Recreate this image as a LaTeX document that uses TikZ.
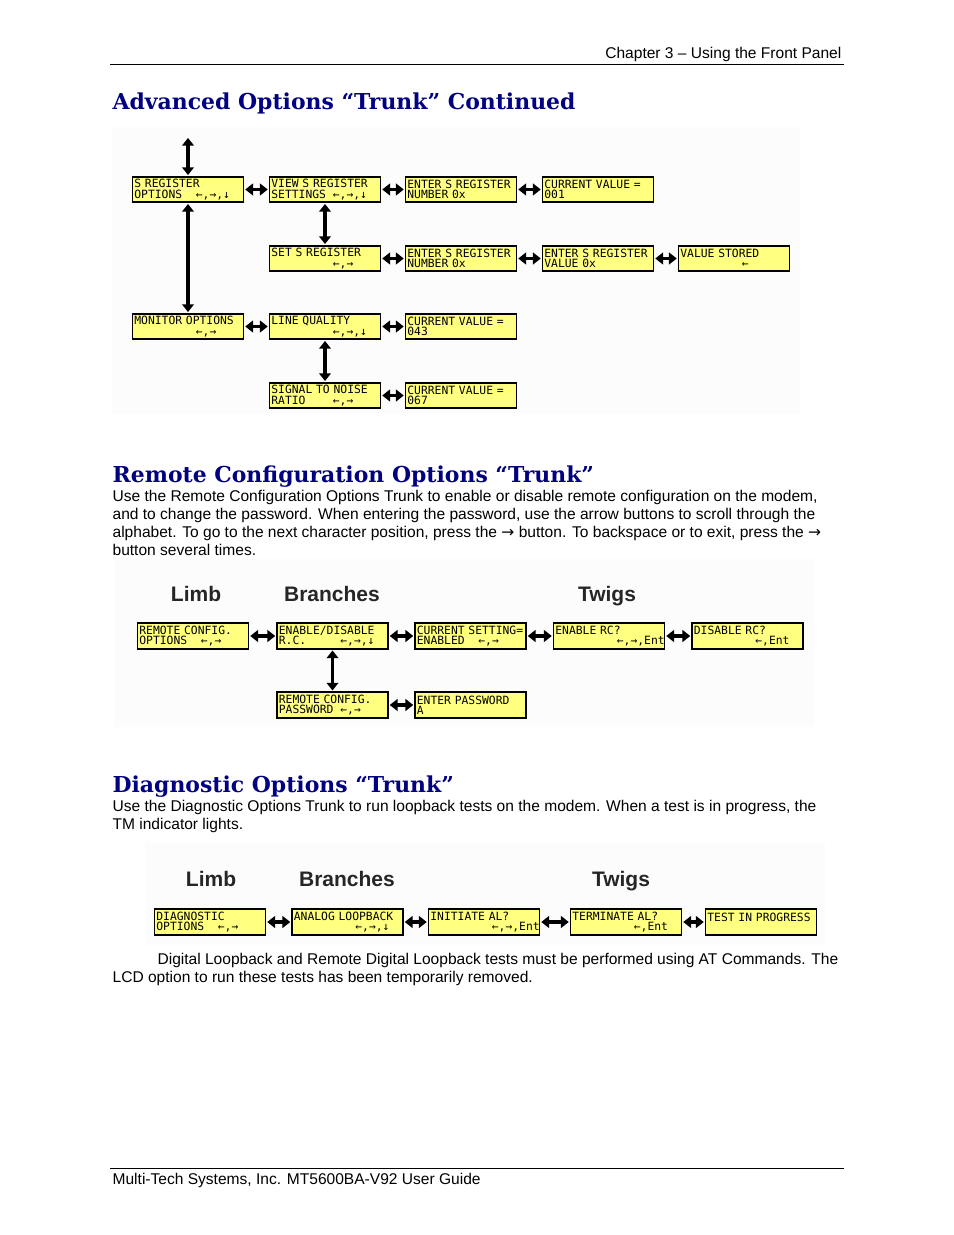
\documentclass[tikz,border=0pt]{standalone}
\usepackage{fontspec}
\setmainfont{Liberation Sans}
\newfontfamily\titlefont{DejaVu Serif}
\newfontfamily\lcdfont{DejaVu Sans Mono}
\newfontfamily\symfont{DejaVu Sans}
\usetikzlibrary{arrows.meta}
\definecolor{lcdyellow}{RGB}{255,255,128}
\definecolor{titleblue}{RGB}{0,0,128}
\definecolor{panelgray}{RGB}{252,252,252}
% second LCD line: key hints start at column 10
\newcommand{\col}[1]{\makebox[5.418em][l]{#1}}

\begin{document}
\begin{tikzpicture}[x=0.6429pt,y=-0.6429pt,>={Triangle[length=5pt,width=7.5pt]}, line width=0.8pt]
    \tikzstyle{lcd} = [draw, fill=lcdyellow, rectangle, line width=1pt, minimum width=71.4pt, minimum height=16.4pt, inner sep=1.2pt, text width=69pt, align=left, font=\lcdfont\fontsize{7.3}{6.6}\selectfont]
    \tikzstyle{link} = [<->, line width=2.2pt, shorten >=0.6pt, shorten <=0.6pt]
    \tikzstyle{para} = [inner sep=0pt, align=left, font=\fontsize{10}{11.57}\selectfont]
    \tikzstyle{heading} = [inner sep=0pt, text=titleblue, font=\titlefont\bfseries\fontsize{14.1}{16}\selectfont]
    \tikzstyle{level} = [inner sep=0pt, anchor=base, text=black!85, font=\bfseries\fontsize{13.5}{16}\selectfont]

    \useasboundingbox (0,0) rectangle (954,1235);

    % Kopf- und Fusszeile
    \node[para, anchor=base east] (chapter) at (842,59) {Chapter 3 -- Using the Front Panel};
    \draw[line width=0.6pt] (110,64.5) -- (844,64.5);
    \draw[line width=0.6pt] (110,1168) -- (844,1168);
    \node[para, anchor=base west] (footer) at (112,1184) {Multi-Tech Systems, Inc. MT5600BA-V92 User Guide};

    % Advanced Options
    \node[heading, anchor=base west] (advtitle) at (112,110) {Advanced Options “Trunk” Continued};
    \fill[panelgray] (112,127) rectangle (800,414);

    \node[lcd] (sreg) at (188,189.5) {S REGISTER\\\col{OPTIONS}←,→,↓};
    \node[lcd] (viewsreg) at (325,189.5) {VIEW S REGISTER\\\col{SETTINGS}←,→,↓};
    \node[lcd] (entsreg) at (461,189.5) {ENTER S REGISTER\\NUMBER 0x};
    \node[lcd] (curval1) at (598,189.5) {CURRENT VALUE =\\001};
    \node[lcd] (setsreg) at (325,258.5) {SET S REGISTER\\\col{}←,→};
    \node[lcd] (entsnum) at (461,258.5) {ENTER S REGISTER\\NUMBER 0x};
    \node[lcd] (entsval) at (598,258.5) {ENTER S REGISTER\\VALUE 0x};
    \node[lcd] (stored) at (734,258.5) {VALUE STORED\\\col{}←};
    \node[lcd] (monitor) at (188,326.5) {MONITOR OPTIONS\\\col{}←,→};
    \node[lcd] (linequal) at (325,326.5) {LINE QUALITY\\\col{}←,→,↓};
    \node[lcd] (curval2) at (461,326.5) {CURRENT VALUE =\\043};
    \node[lcd] (snr) at (325,395.5) {SIGNAL TO NOISE\\\col{RATIO}←,→};
    \node[lcd] (curval3) at (461,395.5) {CURRENT VALUE =\\067};
    \coordinate (sregup) at (188,137);

    \draw[link] (sreg) -- (sregup);
    \draw[link] (sreg) -- (monitor);
    \draw[link] (sreg) -- (viewsreg);
    \draw[link] (viewsreg) -- (entsreg);
    \draw[link] (entsreg) -- (curval1);
    \draw[link] (viewsreg) -- (setsreg);
    \draw[link] (setsreg) -- (entsnum);
    \draw[link] (entsnum) -- (entsval);
    \draw[link] (entsval) -- (stored);
    \draw[link] (monitor) -- (linequal);
    \draw[link] (linequal) -- (curval2);
    \draw[link] (linequal) -- (snr);
    \draw[link] (snr) -- (curval3);

    % Remote Configuration
    \node[heading, anchor=base west] (rctitle) at (112,482) {Remote Configuration Options “Trunk”};
    \node[para, anchor=north west] (rctext) at (112,490) {Use the Remote Configuration Options Trunk to enable or disable remote configuration on the modem,\\
        and to change the password. When entering the password, use the arrow buttons to scroll through the\\
        alphabet. To go to the next character position, press the {\symfont →} button. To backspace or to exit, press the {\symfont →}\\
        button several times.};
    \fill[panelgray] (115,559) rectangle (815,727);

    \node[level] (rclimb) at (196,601) {Limb};
    \node[level] (rcbranch) at (332,601) {Branches};
    \node[level] (rctwig) at (607,601) {Twigs};

    \node[lcd] (rcopt) at (193,636) {REMOTE CONFIG.\\\col{OPTIONS}←,→};
    \node[lcd] (endis) at (332.5,636) {ENABLE/DISABLE\\\col{R.C.}←,→,↓};
    \node[lcd] (cursetting) at (470.5,636) {CURRENT SETTING=\\\col{ENABLED}←,→};
    \node[lcd] (enablerc) at (609,636) {ENABLE RC?\\\col{}←,→,Ent};
    \node[lcd] (disablerc) at (747.5,636) {DISABLE RC?\\\col{}←,Ent};
    \node[lcd] (rcpw) at (332.5,705) {REMOTE CONFIG.\\\col{PASSWORD}←,→};
    \node[lcd] (enterpw) at (470.5,705) {ENTER PASSWORD\\A};

    \draw[link] (rcopt) -- (endis);
    \draw[link] (endis) -- (cursetting);
    \draw[link] (cursetting) -- (enablerc);
    \draw[link] (enablerc) -- (disablerc);
    \draw[link] (endis) -- (rcpw);
    \draw[link] (rcpw) -- (enterpw);

    % Diagnostic Options
    \node[heading, anchor=base west] (diagtitle) at (112,792) {Diagnostic Options “Trunk”};
    \node[para, anchor=north west] (diagtext) at (112,800) {Use the Diagnostic Options Trunk to run loopback tests on the modem. When a test is in progress, the\\
        TM indicator lights.};
    \fill[panelgray] (145,843) rectangle (825,945);

    \node[level] (dglimb) at (211,886) {Limb};
    \node[level] (dgbranch) at (347,886) {Branches};
    \node[level] (dgtwig) at (621,886) {Twigs};

    \node[lcd] (diagopt) at (210,922) {DIAGNOSTIC\\\col{OPTIONS}←,→};
    \node[lcd] (analog) at (347.5,922) {ANALOG LOOPBACK\\\col{}←,→,↓};
    \node[lcd] (initiate) at (484,922) {INITIATE AL?\\\col{}←,→,Ent};
    \node[lcd] (terminate) at (626,922) {TERMINATE AL?\\\col{}←,Ent};
    \node[lcd] (testprog) at (761,922) {TEST IN PROGRESS\\\mbox{}};

    \draw[link] (diagopt) -- (analog);
    \draw[link] (analog) -- (initiate);
    \draw[link] (initiate) -- (terminate);
    \draw[link] (terminate) -- (testprog);

    \node[para, anchor=north west] (dlnote) at (112,953) {\hspace*{28.9pt}Digital Loopback and Remote Digital Loopback tests must be performed using AT Commands. The\\
        LCD option to run these tests has been temporarily removed.};
\end{tikzpicture}
\end{document}
